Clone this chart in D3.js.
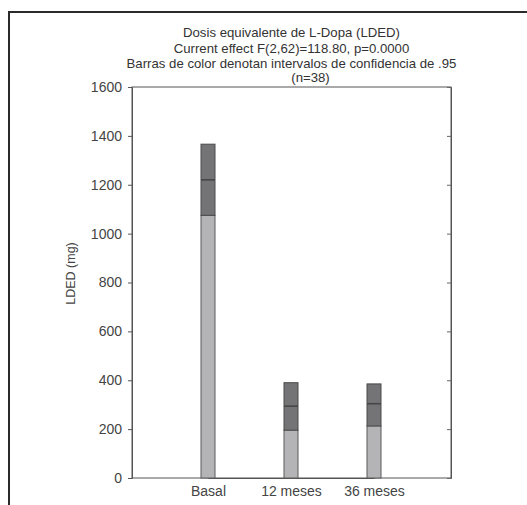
<!DOCTYPE html>
<html>
<head>
<meta charset="utf-8">
<script src="https://cdn.jsdelivr.net/npm/d3@7"></script>
<style>
  body { margin: 0; background: #fff; }
  svg { display: block; font-family: "Liberation Sans", Arial, sans-serif; }
</style>
</head>
<body>
<svg id="chart" width="527" height="505"></svg>
<script>
// categories and 95% CI values
const categories = ["Basal", "12 meses", "36 meses"]
const lowerCI = [1075, 196, 213]
const means = [1220, 294, 304]
const upperCI = [1366, 390, 385]
const yTicks = [0, 200, 400, 600, 800, 1000, 1200, 1400, 1600]
const titleLines = [
    "Dosis equivalente de L-Dopa (LDED)",
    "Current effect F(2,62)=118.80, p=0.0000",
    "Barras de color denotan intervalos de confidencia de .95",
]
const nLabel = "(n=38)"

const rows = categories.map((c, i) => ({ cat: c, lo: lowerCI[i], mean: means[i], hi: upperCI[i] }))

const svg = d3.select("#chart")
const margin = { top: 87, right: 76, bottom: 27, left: 132 }
const width = 527, height = 505
const innerWidth = width - margin.left - margin.right
const innerHeight = height - margin.top - margin.bottom

// outer frame (top + left edge of the figure box)
svg.append("path")
    .attr("d", `M9,${height} V12 H${width}`)
    .attr("fill", "none")
    .attr("stroke", "#2a2a2a")
    .attr("stroke-width", 2)

const titleY = [37, 53, 68]
titleLines.forEach((t, i) => {
    svg.append("text")
        .attr("x", margin.left + innerWidth / 2)
        .attr("y", titleY[i])
        .attr("text-anchor", "middle")
        .attr("font-size", 13.2)
        .attr("fill", "#333")
        .text(t)
})
svg.append("text")
    .attr("x", margin.left + innerWidth / 2 + 19)
    .attr("y", 82)
    .attr("text-anchor", "middle")
    .attr("font-size", 13.2)
    .attr("fill", "#333")
    .text(nLabel)

const x = d3.scalePoint().domain(categories).range([76, 242])
const y = d3.scaleLinear().domain([0, 1600]).range([innerHeight, 0])

const g = svg.append("g").attr("transform", `translate(${margin.left},${margin.top})`)

// plot frame
g.append("rect")
    .attr("width", innerWidth)
    .attr("height", innerHeight)
    .attr("fill", "none")
    .attr("stroke", "#555")
    .attr("stroke-width", 1)

const left = g.append("g")
    .call(d3.axisLeft(y).tickValues(yTicks).tickFormat(d3.format("d")).tickSize(4).tickPadding(6))
left.select(".domain").attr("stroke", "#555")
left.selectAll(".tick line").attr("stroke", "#555")
left.selectAll(".tick text").attr("font-size", 14).attr("fill", "#444")
    .attr("font-family", "Liberation Sans, Arial, sans-serif")

const right = g.append("g")
    .attr("transform", `translate(${innerWidth},0)`)
    .call(d3.axisLeft(y).tickValues(yTicks).tickSize(4).tickFormat(""))
right.select(".domain").attr("stroke", "#555")
right.selectAll(".tick line").attr("stroke", "#666")

const bottom = g.append("g")
    .attr("transform", `translate(0,${innerHeight})`)
    .call(d3.axisBottom(x).tickSize(0).tickPadding(8))
bottom.select(".domain").attr("stroke", "#555")
bottom.selectAll(".tick text").attr("font-size", 14).attr("fill", "#444")
    .attr("font-family", "Liberation Sans, Arial, sans-serif")

g.append("text")
    .attr("transform", "rotate(-90)")
    .attr("x", -innerHeight / 2 + 9)
    .attr("y", -57)
    .attr("text-anchor", "middle")
    .attr("font-size", 12.5)
    .attr("fill", "#444")
    .text("LDED (mg)")

const bw = 14

const bars = g.append("g").selectAll("g").data(rows).join("g")

// light part: 0 to lower CI
bars.append("rect")
    .attr("x", d => x(d.cat) - bw / 2)
    .attr("y", d => y(d.lo))
    .attr("width", bw)
    .attr("height", d => y(0) - y(d.lo))
    .attr("fill", "#b4b4b6")
    .attr("stroke", "#5a5a5a")
    .attr("stroke-width", 1)

// dark part: CI
bars.append("rect")
    .attr("x", d => x(d.cat) - bw / 2)
    .attr("y", d => y(d.hi))
    .attr("width", bw)
    .attr("height", d => y(d.lo) - y(d.hi))
    .attr("fill", "#747476")
    .attr("stroke", "#4a4a4a")
    .attr("stroke-width", 1)

// mean line
bars.append("line")
    .attr("x1", d => x(d.cat) - bw / 2)
    .attr("x2", d => x(d.cat) + bw / 2)
    .attr("y1", d => y(d.mean))
    .attr("y2", d => y(d.mean))
    .attr("stroke", "#444")
    .attr("stroke-width", 1.5)
</script>
</body>
</html>
